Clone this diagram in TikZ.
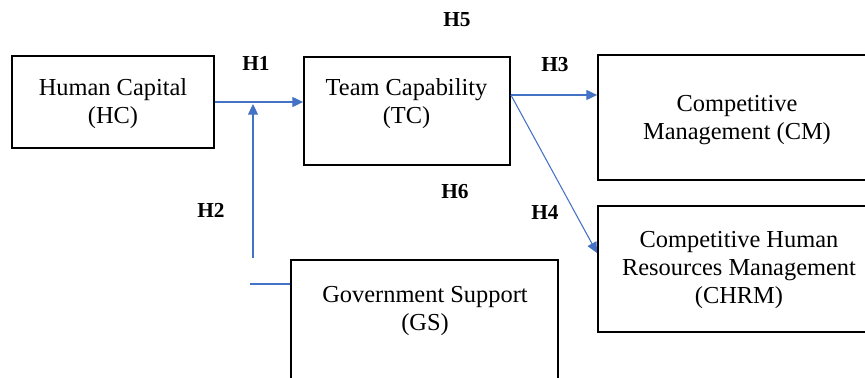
\documentclass[tikz,border=0pt]{standalone}
\usepackage{fontspec}
\setmainfont{Liberation Serif}
\usetikzlibrary{arrows.meta,calc}
\definecolor{linkblue}{RGB}{68,114,196}

\begin{document}
\begin{tikzpicture}[x=0.75pt,y=0.75pt,yscale=-1,xscale=1,
  box/.style={draw, line width=1.4pt, rectangle, inner sep=0pt},
  boxtext/.style={align=center, inner sep=0pt, font=\fontsize{18.3}{21}\selectfont},
  hyp/.style={inner sep=0pt, font=\fontsize{16}{16}\selectfont\bfseries},
  link/.style={draw=linkblue, line width=0.8pt, -{Triangle[length=8pt,width=7.5pt]}},
  stub/.style={draw=linkblue, line width=0.8pt}]
\useasboundingbox (0,0) rectangle (865,378);
\clip (0,0) rectangle (865,378);

%Shape: Rectangle [HC]
\node[box, minimum width=151.5pt, minimum height=69pt] (HC) at (113,102) {};
%Shape: Rectangle [TC]
\node[box, minimum width=154.5pt, minimum height=81pt] (TC) at (407,111) {};
%Shape: Rectangle [CM]
\node[box, minimum width=208.5pt, minimum height=93.75pt] (CM) at (737,117.5) {};
%Shape: Rectangle [CHRM]
\node[box, minimum width=211.5pt, minimum height=94.5pt] (CHRM) at (739,269) {};
%Shape: Rectangle [GS]
\node[box, minimum width=200.25pt, minimum height=105pt] (GS) at (424.5,330) {};

% Text Node
\node[boxtext] (HCt) at (113,104) {Human Capital\\(HC)};
% Text Node
\node[boxtext] (TCt) at (406.5,104) {Team Capability\\(TC)};
% Text Node
\node[boxtext] (CMt) at (737,120) {Competitive\\Management (CM)};
% Text Node
\node[boxtext] (CHRMt) at (739,270.5) {Competitive Human\\Resources Management\\(CHRM)};
% Text Node
\node[boxtext] (GSt) at (425,311.5) {Government Support\\(GS)};

%Connectors
\coordinate (tcout) at ($(TC.east)+(0,-16)$);
\coordinate (h2bot) at (253,258);
\coordinate (h2top) at (253,104);
\coordinate (gsend) at (250,284);
\draw[link] (HC.east) -- (HC.east -| TC.west);
\draw[link] (h2bot) -- (h2top);
\draw[stub] (gsend -| GS.west) -- (gsend);
\draw[link] (tcout) -- (tcout -| CM.west);
\draw[link] (tcout) -- ($(CHRM.west)+(0,-16)$);

% Hypothesis labels
\node[hyp] (H1) at (256,63.5) {H1};
\node[hyp] (H2) at (211,210.5) {H2};
\node[hyp] (H3) at (555,65) {H3};
\node[hyp] (H4) at (545,212) {H4};
\node[hyp] (H5) at (457,20) {H5};
\node[hyp] (H6) at (455,192) {H6};

\end{tikzpicture}
\end{document}
